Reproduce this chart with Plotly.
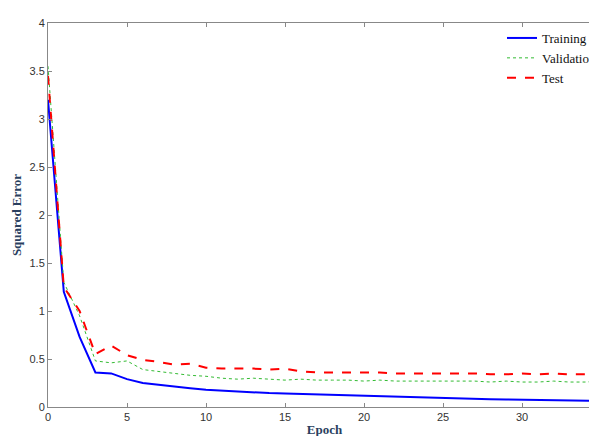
import plotly.graph_objects as go

epochs = list(range(36))
training = [3.2, 1.2, 0.73, 0.36, 0.35, 0.29, 0.25, 0.23, 0.21, 0.195, 0.18, 0.17, 0.16, 0.15,
            0.145, 0.14, 0.135, 0.13, 0.125, 0.12, 0.115, 0.11, 0.105, 0.10, 0.095, 0.09, 0.088,
            0.085, 0.08, 0.078, 0.075, 0.072, 0.07, 0.068, 0.065, 0.063]
validation = [3.55, 1.3, 0.95, 0.48, 0.46, 0.48, 0.39, 0.37, 0.35, 0.33, 0.32, 0.30, 0.29, 0.30,
              0.29, 0.28, 0.29, 0.28, 0.28, 0.28, 0.27, 0.28, 0.27, 0.27, 0.27, 0.27, 0.27, 0.27,
              0.26, 0.27, 0.26, 0.26, 0.27, 0.26, 0.26, 0.27]
test = [3.45, 1.25, 1.0, 0.55, 0.64, 0.54, 0.49, 0.47, 0.44, 0.45, 0.41, 0.40, 0.40, 0.40,
        0.39, 0.40, 0.37, 0.36, 0.36, 0.36, 0.36, 0.36, 0.35, 0.35, 0.35, 0.35, 0.35, 0.35,
        0.34, 0.34, 0.35, 0.34, 0.35, 0.34, 0.34, 0.35]

fig = go.Figure()
fig.add_trace(go.Scatter(x=epochs, y=training, name="Training", mode="lines",
                         line=dict(color="#0000ff", width=2)))
fig.add_trace(go.Scatter(x=epochs, y=validation, name="Validation", mode="lines",
                         line=dict(color="#33bb33", width=1, dash="dot")))
fig.add_trace(go.Scatter(x=epochs, y=test, name="Test", mode="lines",
                         line=dict(color="#ff0000", width=2, dash="dash")))

axis = dict(showgrid=False, zeroline=False, showline=True, linecolor="#888", mirror="ticks",
            ticks="inside", ticklen=4, tickcolor="#888",
            tickfont=dict(family="Liberation Sans, Arial", size=11, color="#333"))
fig.update_layout(
    width=597, height=436, paper_bgcolor="white", plot_bgcolor="white",
    margin=dict(l=40, r=4, t=15, b=37),
    showlegend=True,
    legend=dict(x=1.0, y=1.0, xanchor="right", yanchor="top", bgcolor="rgba(0,0,0,0)",
                font=dict(family="Liberation Serif, Times New Roman", size=13, color="#111"),
                tracegroupgap=0, itemwidth=30),
    xaxis=dict(axis, range=[0, 35], tickvals=[0, 5, 10, 15, 20, 25, 30, 35],
               title=dict(text="<b>Epoch</b>", standoff=2,
                          font=dict(family="Liberation Serif, Times New Roman", size=13))),
    yaxis=dict(axis, range=[0, 4], dtick=0.5,
               title=dict(text="<b>Squared Error</b>", standoff=4,
                          font=dict(family="Liberation Serif, Times New Roman", size=13))),
)
fig.write_html("out.html")
